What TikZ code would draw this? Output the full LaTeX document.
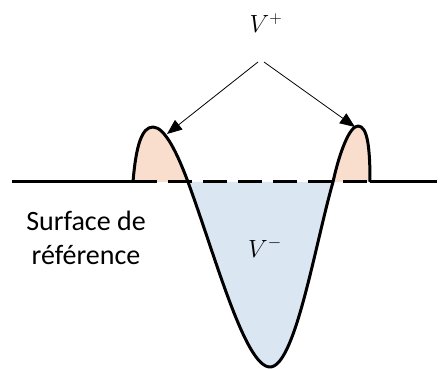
\documentclass[tikz,border=0pt]{standalone}
\usepackage{fontspec}
\setmainfont{Carlito}
\usetikzlibrary{arrows.meta}
\definecolor{bumpfill}{HTML}{F9DECD}
\definecolor{holefill}{HTML}{DBE6F3}

\begin{document}
\begin{tikzpicture}[x=1pt,y=-1pt, every node/.style={inner sep=0pt},
  profile/.style={line width=3pt,line join=round},
  surface/.style={line width=3pt},
  pointer/.style={line width=0.8pt,-{Triangle[length=15pt,width=12pt]}}]
\useasboundingbox (0,0) rectangle (448,369);

% fills above and below the reference surface
\fill[bumpfill] (133,182) .. controls (136,145) and (142,127) .. (153,127)
  .. controls (165,127) and (178,155) .. (188,182) -- cycle;
\fill[holefill] (188,182) .. controls (215,255) and (245,367) .. (270,367)
  .. controls (295,367) and (315,245) .. (333,182) -- cycle;
\fill[bumpfill] (333,182) .. controls (340,150) and (350,126) .. (358,126)
  .. controls (368,126) and (370,150) .. (370,182) -- cycle;

% reference surface
\coordinate (west) at (12,182);
\coordinate (footL) at (133,182);
\coordinate (footR) at (370,182);
\coordinate (east) at (437,182);
\draw[surface] (west) -- (footL);
\draw[surface,dash pattern=on 24pt off 11pt] (footL) -- (footR);
\draw[surface] (footR) -- (east);

% profile
\draw[profile] (footL) .. controls (136,145) and (142,127) .. (153,127)
  .. controls (165,127) and (178,155) .. (188,182)
  .. controls (215,255) and (245,367) .. (270,367)
  .. controls (295,367) and (315,245) .. (333,182)
  .. controls (340,150) and (350,126) .. (358,126)
  .. controls (368,126) and (370,150) .. (footR);

% labels
\node[anchor=base,font=\fontsize{27}{30}\selectfont] (vplus) at (266,33) {$V^+$};
\node[anchor=base,font=\fontsize{27}{30}\selectfont] (vminus) at (265,257) {$V^-$};
\node[align=center,font=\fontsize{28}{34}\selectfont] (surf) at (86,238) {Surface de\\référence};

% arrows to the bumps
\coordinate (startL) at (258,62);
\coordinate (startR) at (264,62);
\coordinate (tipL) at (167,134);
\coordinate (tipR) at (355,127);
\draw[pointer] (startL) -- (tipL);
\draw[pointer] (startR) -- (tipR);

\end{tikzpicture}
\end{document}
